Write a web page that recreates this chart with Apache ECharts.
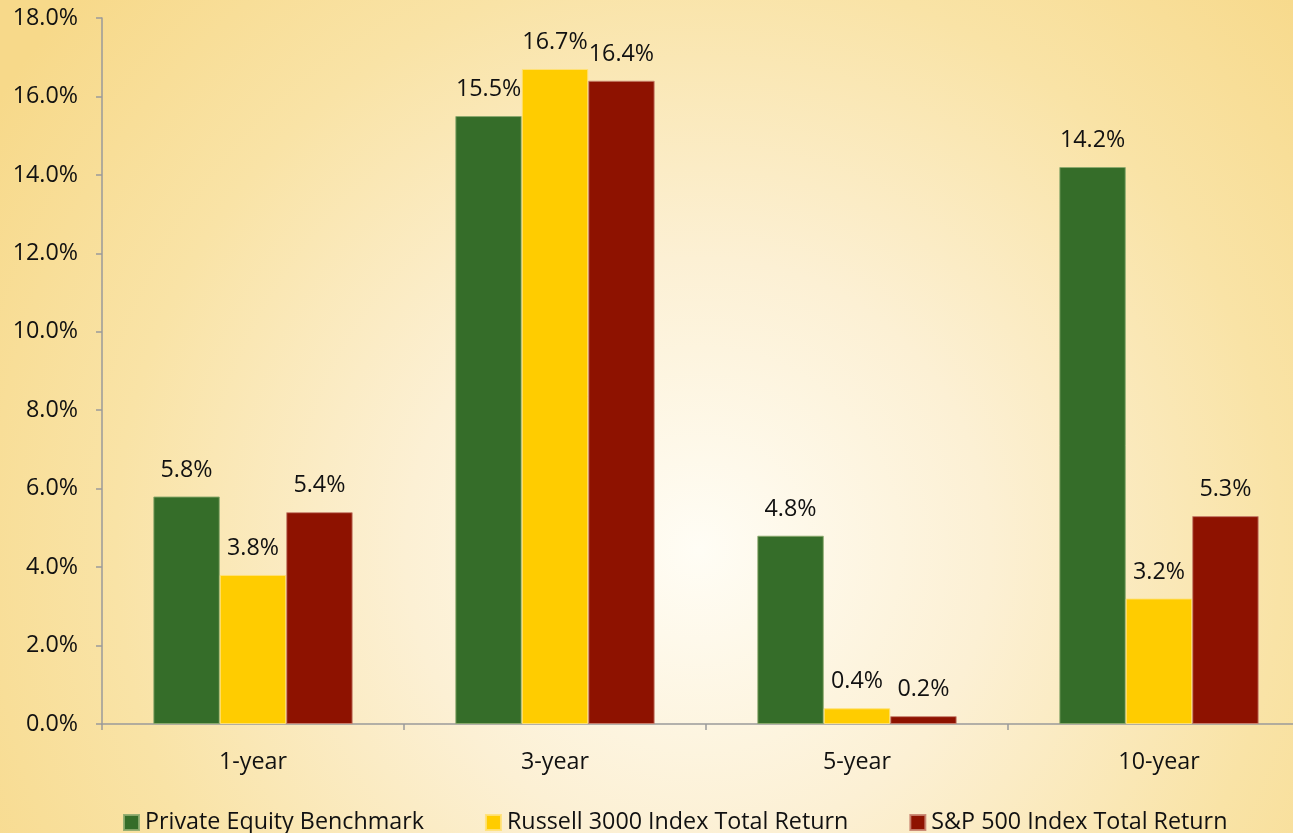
<!DOCTYPE html>
<html>
<head>
<meta charset="utf-8">
<script src="https://cdn.jsdelivr.net/npm/echarts@6/dist/echarts.min.js"></script>
<style>
html,body{margin:0;padding:0;width:1293px;height:833px;overflow:hidden;}
#c{width:1293px;height:833px;}
</style>
</head>
<body>
<div id="c"></div>
<script>
const categories = ['1-year', '3-year', '5-year', '10-year'];
const seriesNames = ['Private Equity Benchmark', 'Russell 3000 Index Total Return', 'S&P 500 Index Total Return'];
const privateEquity = [5.8, 15.5, 4.8, 14.2];
const russell3000 = [3.8, 16.7, 0.4, 3.2];
const sp500 = [5.4, 16.4, 0.2, 5.3];
const yMin = 0, yMax = 18, yStep = 2;

const colors = ['#356D29', '#FFCC00', '#8E1200'];
const borders = ['rgba(140,170,110,0.9)', 'rgba(255,225,120,0.9)', 'rgba(200,130,110,0.9)'];
const fontFamily = '"Open Sans", "Noto Sans", sans-serif';
const fs = 23.3;

const chart = echarts.init(document.getElementById('c'), null, {renderer: 'canvas'});
const dataSets = [privateEquity, russell3000, sp500];

chart.setOption({
  animation: false,
  backgroundColor: {
    type: 'radial', x: 0.54, y: 0.66, r: 1.0,
    colorStops: [
      {offset: 0, color: '#FFFDF5'},
      {offset: 0.35, color: '#FCF0D4'},
      {offset: 0.7, color: '#F9E3A6'},
      {offset: 1, color: '#F7D98A'}
    ]
  },
  color: colors,
  grid: {left: 102, width: 1208, top: 18, bottom: 109, containLabel: false, outerBoundsMode: 'none'},
  legend: {
    top: 806, left: 118,
    itemWidth: 15, itemHeight: 15, itemGap: 61,
    icon: 'rect',
    textStyle: {fontFamily: fontFamily, fontSize: fs, color: '#111', padding: [0, 0, 0, 1]},
    data: seriesNames
  },
  xAxis: {
    type: 'category',
    data: categories,
    axisLine: {lineStyle: {color: '#9A9A9A', width: 1.5}},
    axisTick: {show: true, length: 6, lineStyle: {color: '#9A9A9A', width: 1.5}},
    axisLabel: {fontFamily: fontFamily, fontSize: fs, color: '#111', margin: 27}
  },
  yAxis: {
    type: 'value',
    min: yMin, max: yMax, interval: yStep,
    axisLine: {show: true, lineStyle: {color: '#9A9A9A', width: 1.5}},
    axisTick: {show: true, length: 6, lineStyle: {color: '#9A9A9A', width: 1.5}},
    splitLine: {show: false},
    axisLabel: {
      fontFamily: fontFamily, fontSize: fs, color: '#111', margin: 24,
      formatter: v => v.toFixed(1) + '%'
    }
  },
  series: seriesNames.map((name, i) => ({
    name: name,
    type: 'bar',
    data: dataSets[i],
    barGap: '0%',
    barCategoryGap: '34%',
    itemStyle: {color: colors[i], borderColor: borders[i], borderWidth: 1},
    label: {
      show: true, position: 'top', distance: 15,
      fontFamily: fontFamily, fontSize: fs, color: '#111',
      formatter: p => p.value.toFixed(1) + '%'
    }
  }))
});
</script>
</body>
</html>
